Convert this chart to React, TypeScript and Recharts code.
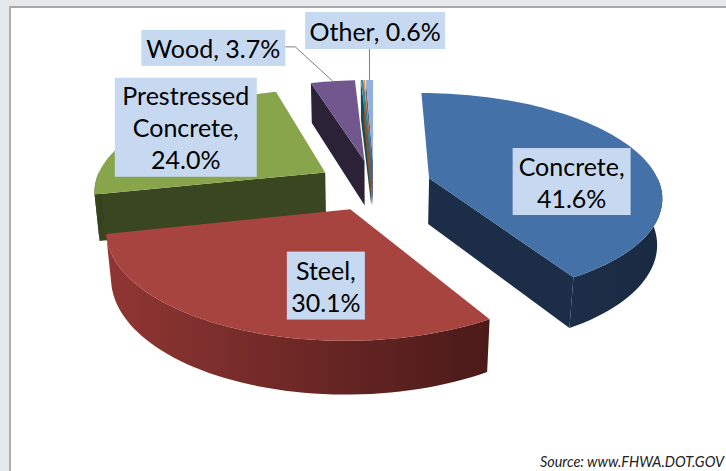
import React from "react";
import { PieChart, Pie, Cell } from "recharts";

// bridge inventory by material, share of bridges (%)
const categories = ["Concrete", "Steel", "Prestressed Concrete", "Wood", "Masonry", "Aluminum", "Other"];
const shares = [41.6, 30.1, 24.0, 3.7, 0.2, 0.1, 0.6];

const topColors = ["#4471a7", "#a7443f", "#89a54c", "#71578e", "#2f8ea3", "#f08f3e", "#93afdb"];
const wallColors = ["#1c2d47", "#903633", "#39461f", "#2c2238", "#1a4d58", "#8c5222", "#4d6080"];
const wallShadeColors = ["#1a2a42", "#4a1a19", "#343f1c", "#281f33", "#163f48", "#6e4019", "#3e4e69"];

const data = categories.map((name, i) => ({ name, value: shares[i] }));

// label boxes: size + nudge from the slice anchor
const LABEL_LAYOUT: Record<string, { w: number; h: number; dx: number; dy: number; outside?: boolean }> = {
  Concrete: { w: 118, h: 67, dx: 15, dy: 18.5 },
  Steel: { w: 78, h: 68, dx: 41, dy: 10 },
  "Prestressed Concrete": { w: 142, h: 99, dx: -30, dy: -17 },
  Wood: { w: 144, h: 36, dx: -119.5, dy: -33.3, outside: true },
  Other: { w: 140, h: 37, dx: 5.6, dy: -49.4, outside: true },
};

// fake 3d: tilt, camera distance, thickness and explode (in radius units)
const TILT = (26 * Math.PI) / 180;
const CAMERA = 5.5;
const THICK = 0.225;
const EXPLODE = 0.25;
const FONT = "Lato, 'Noto Sans', sans-serif";

const rad = (d: number) => (d * Math.PI) / 180;

function project(cx: number, cy: number, k: number, x: number, y: number, z: number): [number, number] {
  const yc = y * Math.cos(TILT) + z * Math.sin(TILT);
  const zc = z * Math.cos(TILT) - y * Math.sin(TILT);
  const s = CAMERA / (CAMERA + zc);
  return [cx + x * k * s, cy - yc * k * s];
}

function sliceFrame(props: any) {
  const { cx, cy, outerRadius, startAngle, endAngle } = props;
  // recharts angles -> clockwise degrees from 12 o'clock
  const t0 = 90 - startAngle;
  const t1 = 90 - endAngle;
  const lo = Math.min(t0, t1);
  const hi = Math.max(t0, t1);
  const mid = (lo + hi) / 2;
  const ox = EXPLODE * Math.sin(rad(mid));
  const oz = EXPLODE * Math.cos(rad(mid));
  const pt = (t: number, r: number, y: number) =>
    project(cx, cy, outerRadius, ox + r * Math.sin(rad(t)), y, oz + r * Math.cos(rad(t)));
  return { lo, hi, mid, pt };
}

function arc(pt: (t: number, r: number, y: number) => [number, number], a: number, b: number, y: number) {
  const n = Math.max(1, Math.ceil(Math.abs(b - a) / 2));
  const out: [number, number][] = [];
  for (let i = 0; i <= n; i++) out.push(pt(a + ((b - a) * i) / n, 1, y));
  return out;
}

const toPath = (pts: [number, number][]) =>
  "M" + pts.map((p) => `${p[0].toFixed(2)},${p[1].toFixed(2)}`).join("L") + "Z";

const indexOf = (props: any) => categories.indexOf(props.payload?.name ?? props.name);

function SliceWalls(props: any) {
  const i = indexOf(props);
  const { lo, hi, pt } = sliceFrame(props);
  const apexTop = pt(0, 0, 0);
  const apexBot = pt(0, 0, -THICK);
  const faces = [];
  if (Math.sin(rad(lo)) < -1e-6) {
    faces.push(<path key="s" d={toPath([apexTop, pt(lo, 1, 0), pt(lo, 1, -THICK), apexBot])} fill={wallColors[i]} />);
  }
  if (Math.sin(rad(hi)) > 1e-6) {
    faces.push(<path key="e" d={toPath([apexTop, pt(hi, 1, 0), pt(hi, 1, -THICK), apexBot])} fill={wallColors[i]} />);
  }
  const a = Math.max(lo, 90);
  const b = Math.min(hi, 270);
  if (b > a) {
    faces.push(
      <path key="c" d={toPath([...arc(pt, a, b, 0), ...arc(pt, b, a, -THICK)])} fill={`url(#wall-${i})`} />
    );
  }
  return (
    <g>
      <defs>
        <linearGradient id={`wall-${i}`} x1="0" y1="0" x2="1" y2="0">
          <stop offset="0" stopColor={wallColors[i]} />
          <stop offset="1" stopColor={wallShadeColors[i]} />
        </linearGradient>
      </defs>
      {faces}
    </g>
  );
}

function SliceTop(props: any) {
  const i = indexOf(props);
  const { lo, hi, pt } = sliceFrame(props);
  return <path d={toPath([pt(0, 0, 0), ...arc(pt, lo, hi, 0)])} fill={topColors[i]} />;
}

function SliceLabel(props: any) {
  const name: string = props.payload?.name ?? props.name;
  const layout = LABEL_LAYOUT[name];
  if (!layout) return null;
  const value: number = props.payload?.value ?? props.value;
  const pct = `${value.toFixed(1)}%`;
  const { mid, pt } = sliceFrame(props);
  const anchor = layout.outside ? pt(mid, 1, 0) : pt(mid, 0.6, 0);
  const bx = anchor[0] + layout.dx;
  const by = anchor[1] + layout.dy;
  let lines: string[];
  if (layout.outside) {
    lines = [`${name}, ${pct}`];
  } else {
    const words = name.split(" ");
    words[words.length - 1] += ",";
    lines = [...words, pct];
  }
  const lh = 32;
  let leader = null;
  if (layout.outside) {
    const right = bx + layout.w / 2;
    const bottom = by + layout.h / 2;
    if (right < anchor[0] - 5) {
      leader = (
        <polyline
          points={`${anchor[0]},${anchor[1]} ${right + 10},${by - 1} ${right},${by - 1}`}
          fill="none"
          stroke="#7f7f7f"
          strokeWidth={1}
        />
      );
    } else {
      leader = <line x1={anchor[0]} y1={anchor[1]} x2={anchor[0]} y2={bottom} stroke="#7f7f7f" strokeWidth={1} />;
    }
  }
  return (
    <g>
      {leader}
      <rect x={bx - layout.w / 2} y={by - layout.h / 2} width={layout.w} height={layout.h} fill="#c6d9f1" />
      {lines.map((ln, k) => (
        <text
          key={k}
          x={bx}
          y={by + (k - (lines.length - 1) / 2) * lh}
          textAnchor="middle"
          dominantBaseline="central"
          fontFamily={FONT}
          fontSize={25}
          fill="#000"
        >
          {ln}
        </text>
      ))}
    </g>
  );
}

export default function App() {
  return (
    <div
      style={{
        position: "fixed",
        left: 0,
        top: 0,
        width: 726,
        height: 471,
        overflow: "hidden",
        background: "#e6e9eb",
      }}
    >
      <div
        style={{
          position: "absolute",
          left: 9,
          top: 6,
          width: 760,
          height: 500,
          background: "#fff",
          borderTop: "2px solid #a8a8a8",
          borderLeft: "2px solid #b0b0b0",
        }}
      />
      <div style={{ position: "absolute", left: 0, top: 0 }}>
        <PieChart width={726} height={471} margin={{ top: 0, right: 0, bottom: 0, left: 0 }}>
          <Pie
            data={data}
            dataKey="value"
            nameKey="name"
            cx={374}
            cy={185}
            outerRadius={231}
            startAngle={90}
            endAngle={-270}
            stroke="none"
            isAnimationActive={false}
            shape={(p: any) => <SliceWalls {...p} />}
          >
            {data.map((d, i) => (
              <Cell key={d.name} fill={wallColors[i]} />
            ))}
          </Pie>
          <Pie
            data={data}
            dataKey="value"
            nameKey="name"
            cx={374}
            cy={185}
            outerRadius={231}
            startAngle={90}
            endAngle={-270}
            stroke="none"
            isAnimationActive={false}
            shape={(p: any) => <SliceTop {...p} />}
            label={(p: any) => <SliceLabel {...p} />}
            labelLine={false}
          >
            {data.map((d, i) => (
              <Cell key={d.name} fill={topColors[i]} />
            ))}
          </Pie>
        </PieChart>
      </div>
      <div
        style={{
          position: "absolute",
          left: 540,
          top: 453,
          whiteSpace: "nowrap",
          fontFamily: FONT,
          fontStyle: "italic",
          fontSize: 14.4,
          color: "#222",
        }}
      >
        Source: www.FHWA.DOT.GOV
      </div>
    </div>
  );
}
